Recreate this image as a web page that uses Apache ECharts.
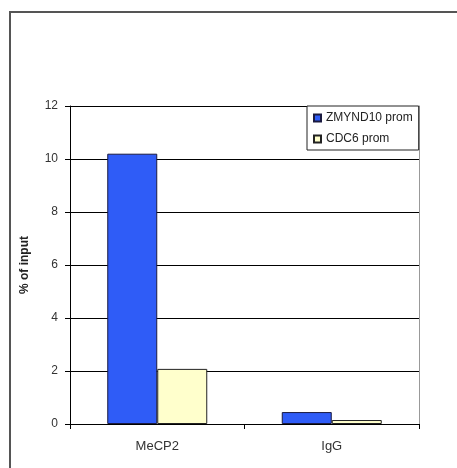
<!DOCTYPE html>
<html><head><meta charset="utf-8">
<script src="https://cdn.jsdelivr.net/npm/echarts@6/dist/echarts.min.js"></script>
<style>html,body{margin:0;padding:0;background:#fff}#c{width:457px;height:468px}</style>
</head><body><div id="c"></div>
<script>
const categories = ['MeCP2', 'IgG'];
const seriesNames = ['ZMYND10 prom', 'CDC6 prom'];
const zmynd10 = [10.2, 0.45];
const cdc6 = [2.08, 0.15];
const yTicks = [0, 2, 4, 6, 8, 10, 12];

const chart = echarts.init(document.getElementById('c'));
const font = 'Liberation Sans, Arial, sans-serif';
chart.setOption({
  animation: false,
  backgroundColor: '#fff',
  graphic: [{
    type: 'rect', shape: {x: 10, y: 12, width: 520, height: 520},
    style: {fill: 'none', stroke: '#555', lineWidth: 2}, silent: true
  }],
  grid: {left: 70, top: 106, right: 38, bottom: 44},
  legend: {
    orient: 'vertical', left: 307, top: 106,
    padding: [6, 6, 5, 6], itemGap: 9, itemWidth: 7, itemHeight: 7,
    borderColor: '#222', borderWidth: 1, backgroundColor: '#fff',
    icon: 'rect',
    textStyle: {fontFamily: font, fontSize: 12, color: '#222'},
    data: seriesNames
  },
  xAxis: {
    type: 'category', data: categories,
    axisLine: {lineStyle: {color: '#000', width: 1}},
    axisTick: {show: true, length: 5, lineStyle: {color: '#000'}},
    axisLabel: {fontFamily: font, fontSize: 13, color: '#333', margin: 16}
  },
  yAxis: [{
    type: 'value', min: 0, max: 12, interval: 2,
    name: '% of input', nameLocation: 'middle', nameGap: 39, nameRotate: 90,
    nameTextStyle: {fontFamily: font, fontSize: 12, fontWeight: 'bold', color: '#222'},
    axisLine: {show: true, lineStyle: {color: '#000'}},
    axisTick: {show: true, length: 5, lineStyle: {color: '#000'}},
    splitLine: {show: true, lineStyle: {color: '#000', width: 1}},
    axisLabel: {fontFamily: font, fontSize: 12, color: '#333', margin: 12,
      formatter: v => yTicks.includes(v) ? String(v) : ''}
  }, {
    type: 'value', min: 0, max: 12, interval: 2, position: 'right',
    axisLine: {show: true, lineStyle: {color: '#999'}},
    axisTick: {show: false}, axisLabel: {show: false}, splitLine: {show: false}
  }],
  series: [{
    name: seriesNames[0], type: 'bar', data: zmynd10, barWidth: 50, barGap: '0%',
    itemStyle: {color: '#2f5cf7', borderColor: '#1a1a40', borderWidth: 1}
  }, {
    name: seriesNames[1], type: 'bar', data: cdc6, barWidth: 50, barGap: '0%',
    itemStyle: {color: '#ffffcc', borderColor: '#222', borderWidth: 1}
  }]
});
</script></body></html>
